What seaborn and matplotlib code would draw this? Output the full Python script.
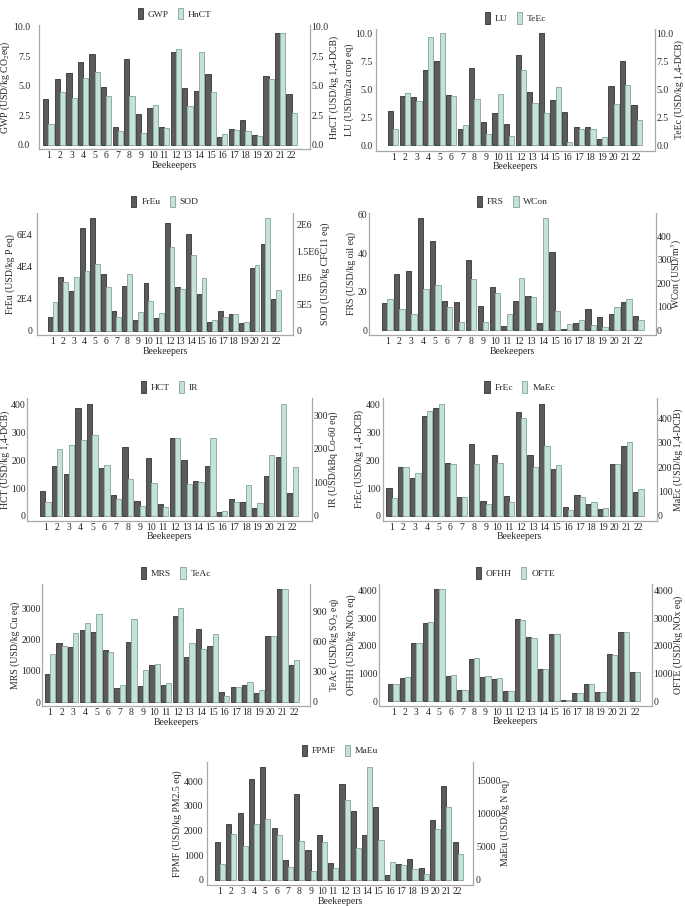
import pandas as pd
import seaborn as sns
import matplotlib.pyplot as plt
from matplotlib.patches import Patch

# beekeeper ids (x categories)
keepers = ["1", "2", "3", "4", "5", "6", "7", "8", "9", "10", "11",
           "12", "13", "14", "15", "16", "17", "18", "19", "20", "21", "22"]

# values, one list per indicator
gwp = [3.9, 5.6, 6.1, 7.05, 7.7, 4.9, 1.5, 7.3, 2.65, 3.15, 1.55, 7.9, 4.85, 4.6, 6.0, 0.65, 1.35, 2.1, 0.85, 5.8, 9.5, 4.3]
hnct = [1.8, 4.5, 4.0, 5.65, 6.2, 4.1, 1.2, 4.15, 1.05, 3.4, 1.4, 8.1, 3.3, 7.9, 4.45, 0.95, 1.25, 1.15, 0.8, 5.6, 9.5, 2.7]
lu = [3.05, 4.4, 4.3, 6.7, 7.5, 4.5, 1.4, 6.9, 2.1, 2.9, 1.9, 8.1, 4.75, 10.05, 4.0, 2.95, 1.6, 1.65, 0.55, 5.3, 7.5, 3.6]
teec = [1.45, 4.65, 3.9, 9.7, 10.05, 4.35, 1.8, 4.15, 0.95, 4.55, 0.85, 6.75, 3.8, 2.85, 5.15, 0.3, 1.45, 1.4, 0.7, 3.7, 5.4, 2.2]
freu = [8700, 33200, 24900, 64000, 70300, 35200, 12000, 27600, 6600, 29600, 7900, 66700, 27400, 60300, 22600, 5600, 12200, 10400, 5000, 38800, 53900, 19700]
sod = [549000, 914000, 1020000, 1130000, 1260000, 820000, 252000, 1066000, 360000, 555000, 328000, 1580000, 780000, 1425000, 990000, 208000, 252000, 320000, 170000, 1250000, 2140000, 770000]
frs = [14.0, 29.1, 30.9, 57.9, 46.4, 15.2, 14.5, 36.4, 12.4, 22.4, 2.1, 15.0, 17.8, 3.6, 40.7, 0.5, 3.6, 11.2, 6.7, 8.4, 14.5, 7.4]
wcon = [133, 92, 68, 177, 192, 100, 34, 216, 35, 160, 71, 220, 140, 475, 83, 25, 45, 21, 13, 100, 131, 42]
hct = [90, 180, 151, 390, 405, 173, 73, 248, 54, 207, 43, 282, 201, 125, 180, 13, 60, 48, 27, 145, 212, 82]
ir = [41, 198, 212, 226, 241, 152, 49, 109, 29, 97, 25, 232, 95, 102, 233, 14, 41, 93, 39, 181, 335, 146]
frec = [100, 175, 136, 361, 390, 192, 66, 258, 53, 220, 70, 376, 218, 404, 170, 30, 75, 42, 24, 187, 252, 86]
maec = [72, 202, 176, 432, 461, 213, 78, 213, 48, 216, 55, 402, 202, 287, 209, 23, 76, 58, 32, 215, 302, 112]
mrs = [900, 1890, 1765, 2320, 2260, 1675, 460, 1945, 515, 1205, 540, 2775, 1440, 2355, 1795, 310, 495, 545, 300, 2120, 3635, 1205]
teac = [482, 555, 691, 791, 880, 495, 166, 831, 319, 379, 193, 937, 585, 528, 674, 60, 150, 199, 116, 654, 1123, 415]
ofhh = [615, 855, 2110, 2845, 4050, 915, 410, 1530, 890, 805, 375, 2965, 2315, 1170, 2445, 60, 290, 640, 350, 1700, 2520, 1060]
ofte = [625, 865, 2095, 2865, 4050, 940, 400, 1555, 905, 830, 360, 2950, 2300, 1155, 2420, 50, 290, 630, 350, 1675, 2495, 1050]
fpmf = [1540, 2270, 2715, 4095, 4570, 2110, 800, 3460, 1215, 1825, 675, 3880, 2800, 1810, 2960, 175, 635, 840, 475, 2405, 3810, 1525]
maeu = [2380, 6940, 5120, 8510, 9270, 6740, 1875, 5930, 1320, 5775, 1825, 12060, 4760, 17170, 6030, 2635, 2230, 1670, 860, 7750, 11045, 3850]

# axis tick values / labels
t_ten = [0, 2.5, 5, 7.5, 10]
l_ten = ["0.0", "2.5", "5.0", "7.5", "10.0"]
t_freu = [0, 20000, 40000, 60000]
l_freu = ["0", "2E4", "4E4", "6E4"]
t_sod = [0, 500000, 1000000, 1500000, 2000000]
l_sod = ["0", "5E5", "1E6", "1.5E6", "2E6"]
t_frs = [0, 20, 40, 60]
t_wcon = [0, 100, 200, 300, 400]
t_hct = [0, 100, 200, 300, 400]
t_ir = [0, 100, 200, 300]
t_mrs = [0, 1000, 2000, 3000]
t_teac = [0, 300, 600, 900]
t_of = [0, 1000, 2000, 3000, 4000]
t_maeu = [0, 5000, 10000, 15000]

dark, dark_edge = "#5b5b5b", "#444444"
light, light_edge = "#c3e3da", "#93ada5"
spine_col = "#a8a8a8"

sns.set_theme(style="white")
plt.rcParams["font.family"] = ["Liberation Serif", "DejaVu Serif"]
plt.rcParams["mathtext.fontset"] = "stix"

W, H = 685, 906
fig = plt.figure(figsize=(W / 100, H / 100), dpi=100)

# (names, left data, right data, left label, right label, left ticks, right ticks,
#  rect px (x0, x1, ytop, ybot), xlim, left ylim, right ylim, left pad, right pad, right labelpad)
panels = [
    (("GWP", "HnCT"), gwp, hnct, "GWP (USD/kg CO$_2$eq)", "HnCT (USD/kg 1,4-DCB)",
     (t_ten, l_ten), (t_ten, l_ten), (39.3, 310, 25, 149), (-0.78, 22.58),
     (-0.34, 10.14), (-0.34, 10.14), 6.5, 1, 0.3),
    (("LU", "TeEc"), lu, teec, "LU (USD/m2a crop eq)", "TeEc (USD/kg 1,4-DCB)",
     (t_ten, l_ten), (t_ten, l_ten), (376, 655, 29.3, 150.7), (-1.49, 22.58),
     (-0.51, 10.36), (-0.51, 10.36), 2.5, 1.2, 0.3),
    (("FrEu", "SOD"), freu, sod, "FrEu (USD/kg P eq)", "SOD (USD/kg CFC11 eq)",
     (t_freu, l_freu), (t_sod, l_sod), (36.7, 293.3, 212.7, 335), (-1.50, 22.63),
     (-2700, 73400), (-82000, 2232000), 3, 2.4, 0.3),
    (("FRS", "WCon"), frs, wcon, "FRS (USD/kg oil eq)", "WCon (USD/m$^3$)",
     (t_frs, None), (t_wcon, None), (369.3, 656, 212.7, 335), (-1.51, 22.48),
     (-2.41, 60.9), (-19.8, 499), 1.5, 0.8, -1.5),
    (("HCT", "IR"), hct, ir, "HCT (USD/kg 1,4-DCB)", "IR (USD/kBq Co-60 eq)",
     (t_hct, None), (t_ir, None), (27.3, 311.7, 398.3, 520.7), (-1.53, 22.61),
     (-18.1, 424), (-15, 351), 1, 1.2, 0.3),
    (("FrEc", "MaEc"), frec, maec, "FrEc (USD/kg 1,4-DCB)", "MaEc (USD/kg 1,4-DCB)",
     (t_hct, None), (t_hct, None), (382.7, 656.7, 398.3, 520.7), (-0.77, 22.57),
     (-18.1, 424), (-20.6, 484), 1.5, 0.8, 0.3),
    (("MRS", "TeAc"), mrs, teac, "MRS (USD/kg Cu eq)", "TeAc (USD/kg SO$_2$ eq)",
     (t_mrs, None), (t_teac, None), (41.7, 310, 584.3, 706), (-0.71, 22.38),
     (-129, 3796), (-40, 1173), 0.8, 1.7, 0.3),
    (("OFHH", "OFTE"), ofhh, ofte, "OFHH (USD/kg NOx eq)", "OFTE (USD/kg NOx eq)",
     (t_of, None), (t_of, None), (379.3, 651.7, 584.3, 705.7), (-1.22, 22.45),
     (-157, 4229), (-157, 4229), 1.5, 1.2, 0.3),
    (("FPMF", "MaEu"), fpmf, maeu, "FPMF (USD/kg PM2.5 eq)", "MaEu (USD/kg N eq)",
     (t_of, None), (t_maeu, None), (206.7, 473.3, 761.7, 885), (-1.18, 22.38),
     (-216, 4784), (-811, 17933), 2.4, 2, 0.3),
]

for (names, left, right, ylab_l, ylab_r, tk_l, tk_r, rect, xlim,
     ylim_l, ylim_r, pad_l, pad_r, lpad_r) in panels:
    x0, x1, ytop, ybot = rect
    ax = fig.add_axes([x0 / W, 1 - ybot / H, (x1 - x0) / W, (ybot - ytop) / H])
    ax2 = ax.twinx()
    pal = {names[0]: dark, names[1]: light}

    for a, name, vals, edge in [(ax, names[0], left, dark_edge), (ax2, names[1], right, light_edge)]:
        df = pd.DataFrame({"Beekeepers": keepers, "value": vals, "series": name})
        sns.barplot(data=df, x="Beekeepers", y="value", hue="series",
                    hue_order=list(names), palette=pal, order=keepers,
                    width=0.9, dodge=True, saturation=1, errorbar=None,
                    edgecolor=edge, linewidth=0.7, legend=False, ax=a)

    for a, (ticks, labels), ylim, lab, pad, lpad in [(ax, tk_l, ylim_l, ylab_l, pad_l, 1.0),
                                                     (ax2, tk_r, ylim_r, ylab_r, pad_r, lpad_r)]:
        a.set_yticks(ticks)
        a.set_yticklabels(labels if labels else [str(t) for t in ticks])
        a.set_ylim(ylim)
        a.set_ylabel(lab, fontsize=7, labelpad=lpad)
        a.tick_params(axis="y", length=0, pad=pad, labelsize=7)

    ax.set_xlim(xlim)
    ax.set_xlabel("Beekeepers", fontsize=7, labelpad=0.5)
    ax.tick_params(axis="x", length=0, pad=1.5, labelsize=7)

    ax.spines["top"].set_visible(False)
    ax.spines["right"].set_visible(False)
    for s in ["top", "left", "bottom"]:
        ax2.spines[s].set_visible(False)
    for sp in [ax.spines["left"], ax.spines["bottom"], ax2.spines["right"]]:
        sp.set_color(spine_col)
        sp.set_linewidth(0.9)

    handles = [Patch(facecolor=dark, edgecolor=dark_edge, linewidth=0.7),
               Patch(facecolor=light, edgecolor=light_edge, linewidth=0.7)]
    ax2.legend(handles, names, loc="lower center", bbox_to_anchor=(0.5, 1.0),
               ncol=2, frameon=False, fontsize=6.8, handlelength=0.55,
               handleheight=1.5, handletextpad=0.5, columnspacing=1.0,
               borderaxespad=0.2)

fig.savefig("out.png", dpi=100)
